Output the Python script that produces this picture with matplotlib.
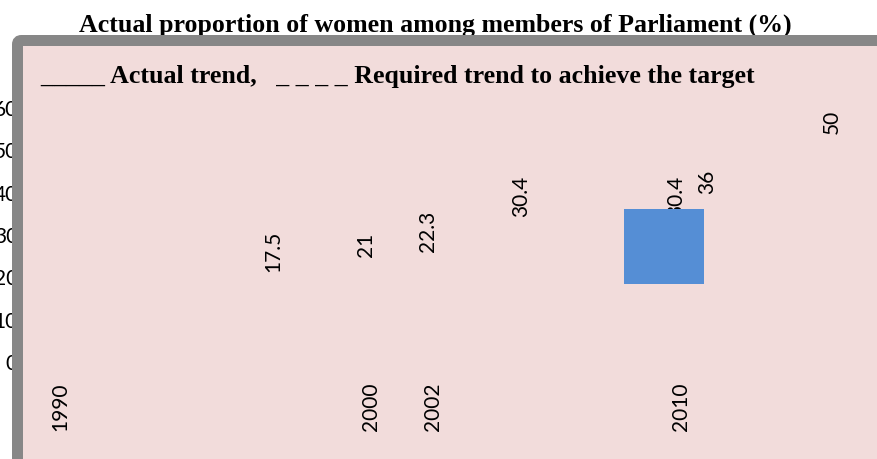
#!/usr/bin/env python3
"""Actual proportion of women among members of Parliament (%)."""

import matplotlib
matplotlib.use("Agg")
import matplotlib.pyplot as plt
from matplotlib.patches import FancyBboxPatch, Rectangle
from matplotlib.transforms import IdentityTransform

# data labels (year, value)
label_years = [1997, 2000, 2002, 2005, 2010, 2011, 2015]
label_values = [17.5, 21, 22.3, 30.4, 30.4, 36, 50]

# category labels that survived on the x axis
tick_years = [1990, 2000, 2002, 2010]
y_ticks = [0, 10, 20, 30, 40, 50, 60]

# stray blue block near 2010
block_year = [2009.44]
block_width = [2.58]
block_low = [18.4]
block_high = [36.1]

W, H = 877, 459
PINK = "#F2DCDB"
GREY = "#878787"
BLUE = "#558ED5"
LABEL_FONT = "Lato"
LABEL_SIZE = 15

fig = plt.figure(figsize=(W / 100, H / 100), dpi=100)
fig.patch.set_facecolor("white")

# pink plot area
fig.patches.append(Rectangle((23, -10), W, H - 46 + 10, transform=IdentityTransform(),
                             facecolor=PINK, edgecolor="none", zorder=-1))

# axes: 1990 -> 60px, 31.05 px/year; 0 -> 362px, 60 -> 108px
px_per_year = 31.05
x0 = 1990 + (23 - 60) / px_per_year
x1 = 1990 + (W - 60) / px_per_year
ax = fig.add_axes([23 / W, (H - 362) / H, (W - 23) / W, (362 - 108) / H])
ax.set_xlim(x0, x1)
ax.set_ylim(0, 60)
ax.patch.set_visible(False)
for s in ax.spines.values():
    s.set_visible(False)

ax.set_xticks(tick_years)
ax.set_xticklabels([str(y) for y in tick_years], rotation=90, fontfamily=LABEL_FONT, fontsize=LABEL_SIZE)
ax.set_yticks(y_ticks)
ax.set_yticklabels([str(v) for v in y_ticks], fontfamily=LABEL_FONT, fontsize=LABEL_SIZE)
ax.tick_params(axis="x", length=0, pad=15)
ax.tick_params(axis="y", length=0, pad=3.6)

for yr, v in zip(label_years, label_values):
    ax.annotate(f"{v:g}", (yr, v), xytext=(-3.3, 11.5), textcoords="offset points",
                rotation=90, ha="center", va="bottom", fontfamily=LABEL_FONT,
                fontsize=LABEL_SIZE, annotation_clip=False, zorder=3)

ax.bar(block_year, [h - l for h, l in zip(block_high, block_low)], width=block_width,
       bottom=block_low, color=BLUE, zorder=4)

fig.text(435 / W, 1 - 32 / H, "Actual proportion of women among members of Parliament (%)",
         ha="center", va="baseline", fontfamily="Liberation Serif", fontweight="bold",
         fontsize=18.6, zorder=3)

# grey frame on top of title and y tick labels
frame = FancyBboxPatch((17.5, -40), W + 40, H - 40.5 + 40, transform=IdentityTransform(),
                       boxstyle="round,pad=0,rounding_size=4", facecolor="none",
                       edgecolor=GREY, linewidth=11 * 0.72, zorder=5)
fig.patches.append(frame)

fig.text(40 / W, 1 - 83 / H,
         "_____ Actual trend,   _ _ _ _ Required trend to achieve the target",
         ha="left", va="baseline", fontfamily="Liberation Serif", fontweight="bold",
         fontsize=18.6, zorder=6)

fig.savefig("out.png", dpi=100)
